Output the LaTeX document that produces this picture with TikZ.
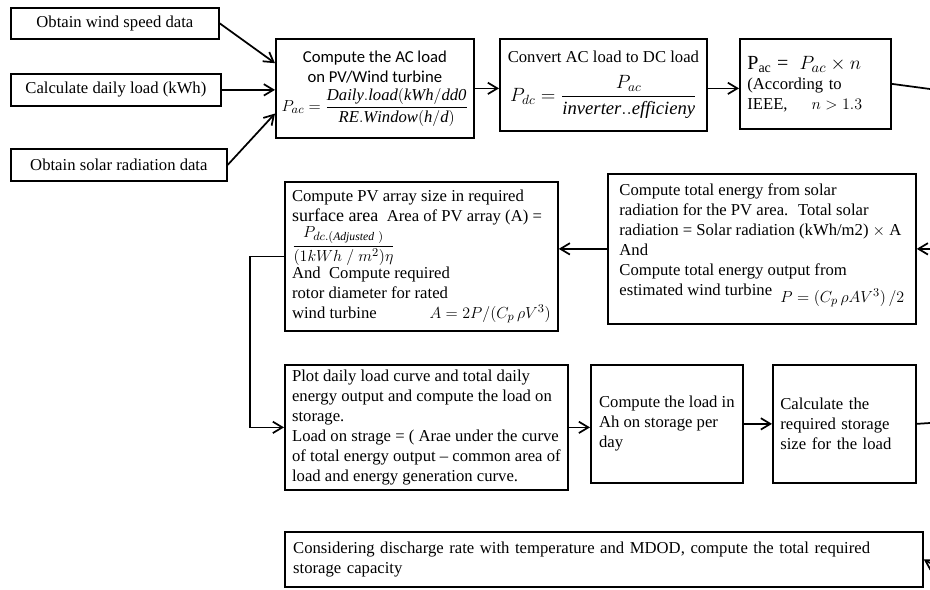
\documentclass[tikz,border=0pt]{standalone}
\usepackage{amsmath}
\usepackage{fontspec}
\setmainfont{Liberation Serif}
\newfontfamily\calibfont{Carlito}
\usetikzlibrary{arrows.meta, positioning, calc}

\begin{document}
\begin{tikzpicture}[
    x=0.75pt, y=-0.75pt,
    stepbox/.style={rectangle, draw, line width=1.3pt, inner sep=2pt, anchor=north west, font=\fontsize{12.5}{15}\selectfont},
    leftbox/.style={stepbox, align=left},
    arrow/.style={-{Straight Barb[length=2.5mm, width=3mm]}, line width=1.3pt},
    link/.style={line width=1.3pt}
]
\useasboundingbox (0,0) rectangle (930,589);

% Input data
\node[stepbox, minimum width=156pt, minimum height=23.25pt] (wind) at (10,7) {Obtain wind speed data};
\node[stepbox, minimum width=157.5pt, minimum height=24pt] (daily) at (10,73) {Calculate daily load (kWh)};
\node[stepbox, minimum width=162pt, minimum height=24pt] (solar) at (10,148) {Obtain solar radiation data};

% Load chain
\node[stepbox, align=center, font=\calibfont\fontsize{12.5}{15}\selectfont,
      minimum width=148.5pt, minimum height=74.25pt] (ac) at (275,38)
  {Compute the AC load\\on PV/Wind turbine\\[3pt]
   $P_{ac}=\dfrac{\mathit{Daily.load(kWh/dd0}}{\mathit{RE.Window(h/d)}}$};
\node[stepbox, align=center, minimum width=155.25pt, minimum height=69pt] (dc) at (499,38)
  {Convert AC load to DC load\\[8pt]
   {\fontsize{14}{16}\selectfont $P_{dc}=\dfrac{P_{ac}}{\mathit{inverter..efficieny}}$}};
\node[leftbox, text width=102pt, minimum width=113.25pt, minimum height=67.5pt] (pac) at (739,38)
  {{\fontsize{15}{17}\selectfont P$_{\mathrm{ac}}$ = \ $P_{ac}\times n$}\\
   (According to\\
   IEEE,\hspace{18pt}$n>1.3$};

% Sizing
\node[leftbox, minimum width=231pt, minimum height=112.5pt] (total) at (607,173)
  {Compute total energy from solar\\
   radiation for the PV area. \ Total solar\\
   radiation = Solar radiation (kWh/m2) $\times$ A\\
   And\\
   Compute total energy output from\\
   estimated wind turbine \ \raisebox{-5pt}{$P=(C_p\,\rho AV^3)\,/2$}\rule[-14pt]{0pt}{0pt}};
\node[leftbox, minimum width=204.75pt, minimum height=111.75pt] (pv) at (284,181)
  {Compute PV array size in required\\
   {\fontsize{13.5}{15}\selectfont surface area} \ Area of PV array (A) =\\
   $\dfrac{P_{dc.(\mathit{Adjusted}\ )}}{(1kWh\ /\ m^2)\eta}$\\
   And \ Compute required\\
   rotor diameter for rated\\
   \makebox[194pt][l]{wind turbine\hfill$A=2P/(C_p\,\rho V^3)$}};

% Storage
\node[leftbox, minimum width=212.25pt, minimum height=93.75pt] (plot) at (284,364)
  {Plot daily load curve and total daily\\
   energy output and compute the load on\\
   storage.\\
   Load on strage = ( Arae under the curve\\
   of total energy output -- common area of\\
   load and energy generation curve.};
\node[leftbox, minimum width=114pt, minimum height=88.5pt] (ah) at (590,364)
  {Compute the load in\\Ah on storage per\\day};
\node[leftbox, text width=96pt, minimum width=107.25pt, minimum height=88.5pt] (calc) at (772,364)
  {Calculate the\\required storage\\size for the load};
\node[leftbox, text width=466pt, minimum width=478.5pt, minimum height=41.25pt] (cap) at (284,531)
  {Considering discharge rate with temperature and MDOD, compute the total required\\storage capacity};

% Off-page ends
\coordinate (outA) at (930,89);
\coordinate (outB) at ($(total.east)+(15,0)$);
\coordinate (outC) at (930,423);
\coordinate (outD) at (930,563);

% Connectors
\draw[arrow] (wind.east) -- ($(ac.north west)!0.25!(ac.south west)$);
\draw[arrow] (daily.east) -- (daily.east -| ac.west);
\draw[arrow] (solar.east) -- ($(ac.north west)!0.75!(ac.south west)$);
\draw[arrow] (ac.east) -- (ac.east -| dc.west);
\draw[arrow] (ac.east -| dc.east) -- (ac.east -| pac.west);
\draw[link] (pac.east) -- (outA);
\draw[arrow] (outB) -- (total.east);
\draw[arrow] (total.west) -- (total.west -| pv.east);
\draw[arrow] (pv.west) -- ++(-34,0) |- (plot.west);
\draw[arrow] (plot.east) -- (plot.east -| ah.west);
\draw[arrow] (ah.east) -- (calc.west);
\draw[link] (calc.east) -- (outC);
\draw[arrow] (outD) -- (cap.east);

\end{tikzpicture}
\end{document}
